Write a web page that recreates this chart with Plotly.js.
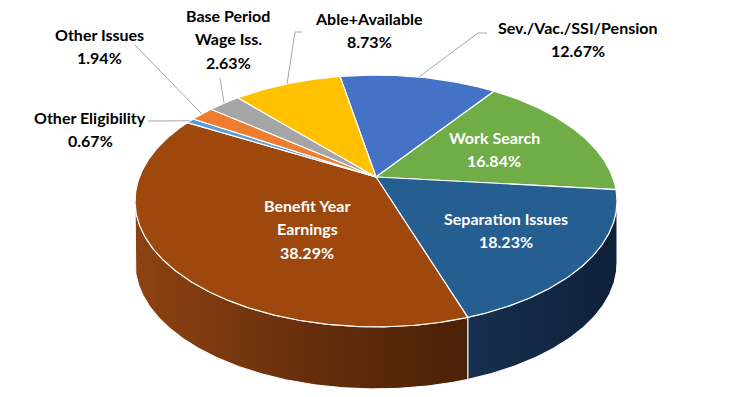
<!DOCTYPE html>
<html>
<head>
<meta charset="utf-8">
<script src="https://cdn.plot.ly/plotly-3.0.1.min.js"></script>
<style>
  html, body { margin: 0; padding: 0; background: #ffffff; }
  #chart { width: 750px; height: 397px; }
</style>
</head>
<body>
<div id="chart"></div>
<script>
// ---------------- DATA ----------------
const categories = ['Sev./Vac./SSI/Pension', 'Work Search', 'Separation Issues', 'Benefit Year Earnings',
                    'Other Eligibility', 'Other Issues', 'Base Period Wage Iss.', 'Able+Available'];
const values = [12.67, 16.84, 18.23, 38.29, 0.67, 1.94, 2.63, 8.73];
const labelLines = [['Sev./Vac./SSI/Pension'], ['Work Search'], ['Separation Issues'], ['Benefit Year', 'Earnings'],
                    ['Other Eligibility'], ['Other Issues'], ['Base Period', 'Wage Iss.'], ['Able+Available']];

// ---------------- STYLE / LAYOUT ----------------
const topColors = ['#4472C4', '#70AD47', '#255E91', '#9E480E', '#5B9BD5', '#ED7D31', '#A5A5A5', '#FFC000'];
const wallColors = ['#2f5597', '#4e7a32', null, null, '#3d6e9b', '#a8561f', '#767676', '#b38600'];
const wallGradients = {2: [[0, '#16304f'], [1, '#0f2038']], 3: [[0, '#8e4211'], [0.55, '#642d0b'], [1, '#4a2108']]};
const textColors = ['#000', '#fff', '#fff', '#fff', '#000', '#000', '#000', '#000'];
// first-line centre of each label (pixels)
const labelPos = [[578, 27], [494, 137], [506, 218], [307, 205], [90, 117], [99, 34], [228, 15], [369, 18]];
const lineGap = 23.5;
// leader-line label-side points
const leaderAnchors = {0: [[487, 33], [478, 33]], 4: [[148, 121]], 5: [[135, 45]], 6: [[220, 78]], 7: [[302, 32], [295, 32]]};

// projection of the tilted disc
const g = {cx: 376, cy: 177, f: 1067, s: 0.513, c: 0.858, D: 4.51, depth: 62, start: -10.4};

function project(deg, r) {
  const t = deg * Math.PI / 180;
  const u = r * Math.sin(t), v = r * Math.cos(t);
  const yc = v * g.s, zc = g.D + v * g.c;
  return [g.cx + g.f * u / zc, g.cy - g.f * yc / zc];
}
function arc(a, b) {
  const n = Math.max(2, Math.ceil(Math.abs(b - a) / 0.5));
  const pts = [];
  for (let i = 0; i <= n; i++) pts.push(project(a + (b - a) * i / n, 1));
  return pts;
}

const total = values.reduce((p, q) => p + q, 0);
const bounds = [];
let acc = g.start;
values.forEach(v => { const span = v / total * 360; bounds.push([acc, acc + span]); acc += span; });

const traces = [];
// ---- side walls (front half only) ----
const visR = Math.acos(-g.c / g.D) * 180 / Math.PI;   // rightmost silhouette angle
const visL = 360 - visR;                               // leftmost silhouette angle
bounds.forEach((bd, i) => {
  const a = Math.max(bd[0], visR), b = Math.min(bd[1], visL);
  if (b <= a) return;
  const top = arc(a, b);
  const bot = top.slice().reverse().map(p => [p[0], p[1] + g.depth]);
  const poly = top.concat(bot);
  poly.push(top[0]);
  const tr = {
    type: 'scatter', mode: 'lines', x: poly.map(p => p[0]), y: poly.map(p => p[1]),
    fill: 'toself', line: {color: '#ffffff', width: 1}, hoverinfo: 'skip', showlegend: false
  };
  if (wallGradients[i]) tr.fillgradient = {type: 'horizontal', colorscale: wallGradients[i]};
  else tr.fillcolor = wallColors[i];
  traces.push(tr);
});
// ---- top surface slices ----
bounds.forEach((bd, i) => {
  const pts = [[g.cx, g.cy]].concat(arc(bd[0], bd[1]));
  pts.push([g.cx, g.cy]);
  traces.push({
    type: 'scatter', mode: 'lines', x: pts.map(p => p[0]), y: pts.map(p => p[1]),
    fill: 'toself', fillcolor: topColors[i], line: {color: '#ffffff', width: 1.2},
    hoverinfo: 'skip', showlegend: false, name: categories[i]
  });
});
// ---- leader lines ----
Object.keys(leaderAnchors).forEach(k => {
  const i = +k;
  const mid = (bounds[i][0] + bounds[i][1]) / 2;
  const pts = leaderAnchors[k].concat([project(mid, 1)]);
  traces.push({
    type: 'scatter', mode: 'lines', x: pts.map(p => p[0]), y: pts.map(p => p[1]),
    line: {color: '#a6a6a6', width: 1}, hoverinfo: 'skip', showlegend: false
  });
});

// ---- labels ----
const annotations = [];
labelLines.forEach((lines, i) => {
  const all = lines.concat([values[i].toFixed(2) + '%']);
  all.forEach((txt, j) => {
    annotations.push({
      x: labelPos[i][0], y: labelPos[i][1] + j * lineGap, xref: 'x', yref: 'y',
      text: txt, showarrow: false, xanchor: 'center', yanchor: 'middle',
      font: {family: 'Lato, "Open Sans", sans-serif', size: 16, color: textColors[i], weight: 700}
    });
  });
});

const layout = {
  width: 750, height: 397, autosize: false,
  margin: {l: 0, r: 0, t: 0, b: 0, pad: 0},
  paper_bgcolor: '#ffffff', plot_bgcolor: '#ffffff',
  xaxis: {range: [0, 750], visible: false, fixedrange: true},
  yaxis: {range: [397, 0], visible: false, fixedrange: true},
  showlegend: false, hovermode: false,
  annotations: annotations
};
Plotly.newPlot('chart', traces, layout, {displayModeBar: false, staticPlot: true});
</script>
</body>
</html>
